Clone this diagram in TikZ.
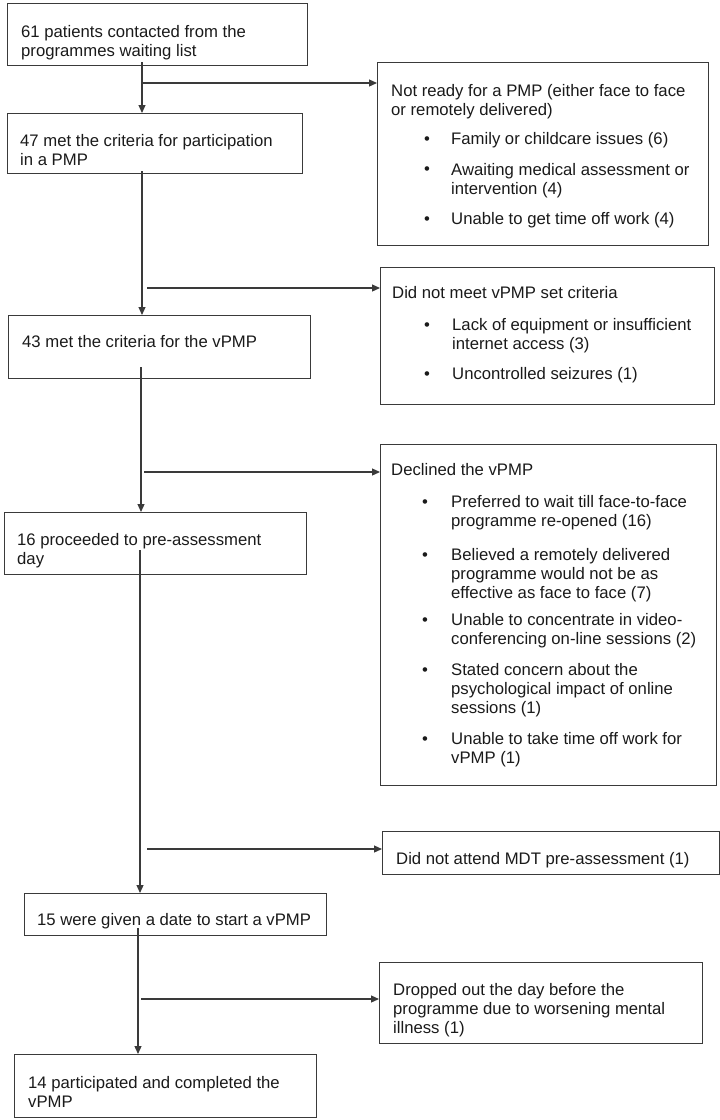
\documentclass[tikz,border=0pt]{standalone}
\usepackage{fontspec}
\setmainfont{Liberation Sans}
\usetikzlibrary{arrows.meta}
\definecolor{ln}{HTML}{3A3A3A}
\definecolor{tx}{HTML}{1A1A1A}
\begin{document}
\begin{tikzpicture}[x=1pt,y=-1pt,
  box/.style={draw=ln, line width=1.2pt, inner sep=0pt, anchor=north west},
  txt/.style={anchor=base west, inner sep=0pt, align=left, text=tx, font=\fontsize{16.7}{19}\selectfont},
  bul/.style={anchor=base, inner sep=0pt, text=tx, font=\fontsize{16.7}{19}\selectfont},
  arr/.style={draw=ln, line width=1.2pt, -{Triangle[length=8pt,width=7pt]}},
]
\useasboundingbox (0,0) rectangle (720,1120);
% left column boxes
\node[box, minimum width=300pt, minimum height=62pt] (L1) at (7,3) {};
\node[box, minimum width=295pt, minimum height=60pt] (L2) at (7,113) {};
\node[box, minimum width=302pt, minimum height=63pt] (L3) at (8,315) {};
\node[box, minimum width=302pt, minimum height=62pt] (L4) at (4,512) {};
\node[box, minimum width=302pt, minimum height=42pt] (L5) at (24,893) {};
\node[box, minimum width=302pt, minimum height=63pt] (L6) at (14,1054) {};
% right column boxes
\node[box, minimum width=331pt, minimum height=183pt] (R1) at (377,62) {};
\node[box, minimum width=334pt, minimum height=137pt] (R2) at (380,267) {};
\node[box, minimum width=336pt, minimum height=341pt] (R3) at (380,444) {};
\node[box, minimum width=337pt, minimum height=43pt] (R4) at (382,831) {};
\node[box, minimum width=323pt, minimum height=81pt] (R5) at (379,962) {};
% left texts (anchor = baseline of the last line)
\node[txt] (tL1) at (21,56) {61 patients contacted from the\\programmes waiting list};
\node[txt] (tL2) at (20,165) {47 met the criteria for participation\\in a PMP};
\node[txt] (tL3) at (22,347) {43 met the criteria for the vPMP};
\node[txt] (tL4) at (17,564) {16 proceeded to pre-assessment\\day};
\node[txt] (tL5) at (37,925) {15 were given a date to start a vPMP};
\node[txt] (tL6) at (28,1107) {14 participated and completed the\\vPMP};
% R1
\node[txt] (tR1) at (391,115) {Not ready for a PMP (either face to face\\or remotely delivered)};
\node[bul] (bR1a) at (427,144) {•};
\node[txt] (iR1a) at (451,144) {Family or childcare issues (6)};
\node[bul] (bR1b) at (427,174) {•};
\node[txt] (iR1b) at (451,194) {Awaiting medical assessment or\\intervention (4)};
\node[bul] (bR1c) at (427,224) {•};
\node[txt] (iR1c) at (451,224) {Unable to get time off work (4)};
% R2
\node[txt] (tR2) at (392,298) {Did not meet vPMP set criteria};
\node[bul] (bR2a) at (427,330) {•};
\node[txt] (iR2a) at (452,349) {Lack of equipment or insufficient\\internet access (3)};
\node[bul] (bR2b) at (427,379) {•};
\node[txt] (iR2b) at (452,379) {Uncontrolled seizures (1)};
% R3
\node[txt] (tR3) at (391,475) {Declined the vPMP};
\node[bul] (bR3a) at (425,507) {•};
\node[txt] (iR3a) at (451,526) {Preferred to wait till face-to-face\\programme re-opened (16)};
\node[bul] (bR3b) at (425,560) {•};
\node[txt] (iR3b) at (451,598) {Believed a remotely delivered\\programme would not be as\\effective as face to face (7)};
\node[bul] (bR3c) at (425,625) {•};
\node[txt] (iR3c) at (451,644) {Unable to concentrate in video-\\conferencing on-line sessions (2)};
\node[bul] (bR3d) at (425,675) {•};
\node[txt] (iR3d) at (451,713) {Stated concern about the\\psychological impact of online\\sessions (1)};
\node[bul] (bR3e) at (425,744) {•};
\node[txt] (iR3e) at (451,763) {Unable to take time off work for\\vPMP (1)};
% R4, R5
\node[txt] (tR4) at (396,864) {Did not attend MDT pre-assessment (1)};
\node[txt] (tR5) at (393,1033) {Dropped out the day before the\\programme due to worsening mental\\illness (1)};
% connectors
\coordinate (s1) at (142,62);  \draw[arr] (s1) -- (s1 |- L2.north);
\coordinate (k1) at (142,83);  \draw[arr] (k1) -- (k1 -| R1.west);
\coordinate (s2) at (142,171); \draw[arr] (s2) -- (s2 |- L3.north);
\coordinate (k2) at (147,288); \draw[arr] (k2) -- (k2 -| R2.west);
\coordinate (s3) at (141,367); \draw[arr] (s3) -- (s3 |- L4.north);
\coordinate (k3) at (144,472); \draw[arr] (k3) -- (k3 -| R3.west);
\coordinate (s4) at (140,550); \draw[arr] (s4) -- (s4 |- L5.north);
\coordinate (k4) at (147,849); \draw[arr] (k4) -- (k4 -| R4.west);
\coordinate (s5) at (138,928); \draw[arr] (s5) -- (s5 |- L6.north);
\coordinate (k5) at (141,999); \draw[arr] (k5) -- (k5 -| R5.west);
\end{tikzpicture}
\end{document}
